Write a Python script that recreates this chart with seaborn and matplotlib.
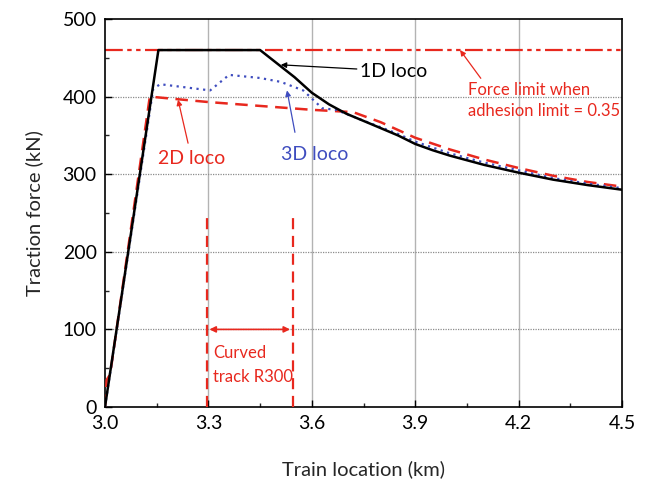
import matplotlib
matplotlib.use("Agg")
import matplotlib.pyplot as plt
import seaborn as sns
import pandas as pd
from matplotlib.ticker import MultipleLocator

# Data
x_1d = [3.0, 3.155, 3.45, 3.55, 3.6, 3.65, 3.7, 3.77, 3.85, 3.9, 3.95, 4.0, 4.1, 4.2, 4.3, 4.4, 4.5]
f_1d = [0, 460, 460, 425, 405, 390, 378, 365, 350, 339, 331, 324, 312, 302, 293, 286, 280]

x_2d = [3.0, 3.005, 3.015, 3.13, 3.3, 3.45, 3.6, 3.72, 3.8, 3.9, 4.0, 4.1, 4.2, 4.3, 4.4, 4.5]
f_2d = [0, 35, 42, 400, 393, 388, 383, 380, 367, 347, 332, 319, 308, 298, 290, 284]

x_3d = [3.0, 3.14, 3.16, 3.305, 3.36, 3.45, 3.51, 3.575, 3.63, 3.67, 3.75, 3.85, 3.9, 4.0, 4.1, 4.2, 4.3, 4.4, 4.5]
f_3d = [0, 410, 416, 408, 428, 424, 419, 408, 385, 383, 369, 352, 342, 327, 315, 305, 295, 288, 282]

force_limit = 460
curve_start, curve_end = 3.295, 3.545

sns.set_theme(style="ticks")
plt.rcParams['font.family'] = ['Lato', 'DejaVu Sans']

RED = '#e8281e'
BLUE = '#3f4dbf'

fig = plt.figure(figsize=(6.48, 4.88), dpi=100)
ax = fig.add_axes([0.162, 0.166, 0.798, 0.795])

ax.set_xlim(3.0, 4.5)
ax.set_ylim(0, 500)

# grid
for gx in [3.3, 3.6, 3.9, 4.2]:
    ax.axvline(gx, color='0.7', lw=1.0, zorder=0)
for gy in [100, 200, 300, 400]:
    ax.axhline(gy, color='0.55', lw=0.9, ls=(0, (1, 1)), zorder=0)

# force limit
ax.axhline(force_limit, color=RED, lw=1.6, ls=(0, (8, 2, 2, 2, 2, 2)), zorder=2)

df1 = pd.DataFrame({'x': x_1d, 'y': f_1d})
df2 = pd.DataFrame({'x': x_2d, 'y': f_2d})
df3 = pd.DataFrame({'x': x_3d, 'y': f_3d})

sns.lineplot(data=df2, x='x', y='y', ax=ax, color=RED, lw=1.8, ls=(0, (5, 3)), sort=False, zorder=3)
sns.lineplot(data=df3, x='x', y='y', ax=ax, color=BLUE, lw=1.6, ls=(0, (1, 2)), sort=False, zorder=4)
sns.lineplot(data=df1, x='x', y='y', ax=ax, color='black', lw=1.8, sort=False, zorder=5)

# curved track markers
ax.plot([curve_start, curve_start], [0, 250], color=RED, lw=1.6, ls=(0, (5, 3)), zorder=3)
ax.plot([curve_end, curve_end], [0, 245], color=RED, lw=1.6, ls=(0, (5, 3)), zorder=3)
ax.annotate('', xy=(curve_start, 100), xytext=(curve_end, 100),
            arrowprops=dict(arrowstyle='<|-|>', color=RED, lw=1.2, mutation_scale=9))
ax.text(3.313, 70, 'Curved', color=RED, fontsize=12, va='center', ha='left')
ax.text(3.313, 39, 'track R300', color=RED, fontsize=12, va='center', ha='left')

# annotations
ax.annotate('1D loco', xy=(3.51, 441), xytext=(3.74, 433),
            color='black', fontsize=14, va='center', ha='left',
            arrowprops=dict(arrowstyle='-|>', color='black', lw=0.9, mutation_scale=8, shrinkA=0, shrinkB=0))
ax.annotate('Force limit when\nadhesion limit = 0.35', xy=(4.03, 460), xytext=(4.053, 395),
            color=RED, fontsize=12, va='center', ha='left', linespacing=1.45,
            arrowprops=dict(arrowstyle='-|>', color=RED, lw=0.9, mutation_scale=8,
                            shrinkA=0, shrinkB=0, relpos=(0.1, 1.0)))
ax.annotate('', xy=(3.212, 396), xytext=(3.241, 340),
            arrowprops=dict(arrowstyle='-|>', color=RED, lw=0.9, mutation_scale=8, shrinkA=0, shrinkB=0))
ax.text(3.25, 320, '2D loco', color=RED, fontsize=14, va='center', ha='center')
ax.annotate('', xy=(3.528, 408), xytext=(3.551, 354),
            arrowprops=dict(arrowstyle='-|>', color=BLUE, lw=0.9, mutation_scale=8, shrinkA=0, shrinkB=0))
ax.text(3.609, 325, '3D loco', color=BLUE, fontsize=14, va='center', ha='center')

# ticks
ax.xaxis.set_major_locator(MultipleLocator(0.3))
ax.xaxis.set_minor_locator(MultipleLocator(0.15))
ax.yaxis.set_major_locator(MultipleLocator(100))
ax.yaxis.set_minor_locator(MultipleLocator(50))
ax.xaxis.set_major_formatter(plt.FuncFormatter(lambda v, p: f"{v:.1f}"))
ax.tick_params(which='major', direction='in', length=5, width=1, labelsize=14, colors='black', pad=6)
ax.tick_params(which='minor', direction='in', length=3, width=1)
for s in ax.spines.values():
    s.set_color('black')
    s.set_linewidth(1.2)

ax.set_xlabel('Train location (km)', fontsize=14.5, labelpad=20)
ax.set_ylabel('Traction force (kN)', fontsize=14.5, labelpad=14)

fig.savefig('out.png', dpi=100)
